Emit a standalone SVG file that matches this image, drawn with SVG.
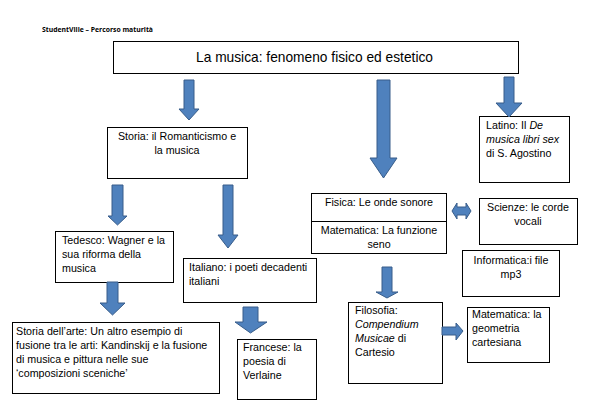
<svg xmlns="http://www.w3.org/2000/svg" width="599" height="409" viewBox="0 0 599 409">
<style>
.box{fill:#fff;stroke:#000;stroke-width:1}
.t{font-family:"Liberation Sans",Arial,sans-serif;font-size:10.7px;fill:#000}
.c{text-anchor:middle}
.arr{fill:#4F81BD;stroke:#385D8A;stroke-width:1}
.i{font-style:italic}
</style>
<rect width="599" height="409" fill="#fff"/>
<text x="42" y="31.5" font-family="'Open Sans','Liberation Sans',sans-serif" font-size="6.5" font-weight="bold" textLength="111" lengthAdjust="spacingAndGlyphs">StudentVille – Percorso maturità</text>

<g id="title">
<rect class="box" x="113.5" y="41.5" width="405" height="32"/>
<text x="314.5" y="62" class="t c" style="font-size:13.75px">La musica: fenomeno fisico ed estetico</text>
</g>
<g id="storia">
<rect class="box" x="107.5" y="127.5" width="140" height="51"/>
<text class="t c" x="177" y="140">Storia: il Romanticismo e</text>
<text class="t c" x="177" y="154">la musica</text>
</g>
<g id="latino">
<rect class="box" x="479.5" y="116.5" width="90" height="66"/>
<text class="t" x="486" y="129">Latino: Il <tspan class="i">De</tspan></text>
<text class="t i" x="486" y="143">musica libri sex</text>
<text class="t" x="486" y="157">di S. Agostino</text>
</g>
<g id="fisica">
<rect class="box" x="311.5" y="193.5" width="135" height="60"/>
<line x1="311.5" y1="221.5" x2="446.5" y2="221.5" stroke="#000" stroke-width="1"/>
<text class="t c" x="379" y="206">Fisica: Le onde sonore</text>
<text class="t c" x="379" y="234">Matematica: La funzione</text>
<text class="t c" x="379" y="248">seno</text>
</g>
<g id="scienze">
<rect class="box" x="479.5" y="198.5" width="98" height="46"/>
<text class="t c" x="528" y="211">Scienze: le corde</text>
<text class="t c" x="528" y="225">vocali</text>
</g>
<g id="informatica">
<rect class="box" x="462.5" y="250.5" width="97" height="46"/>
<text class="t c" x="511" y="264">Informatica:i file</text>
<text class="t c" x="511" y="278">mp3</text>
</g>
<g id="tedesco">
<rect class="box" x="55.5" y="231.5" width="118" height="51"/>
<text class="t" x="62" y="244">Tedesco: Wagner e la</text>
<text class="t" x="62" y="258">sua riforma della</text>
<text class="t" x="62" y="272">musica</text>
</g>
<g id="italiano">
<rect class="box" x="183.5" y="258.5" width="133" height="44"/>
<text class="t" x="189" y="271">Italiano: i poeti decadenti</text>
<text class="t" x="189" y="285">italiani</text>
</g>
<g id="arte">
<rect class="box" x="12.5" y="322.5" width="207" height="71"/>
<text class="t" x="16" y="335">Storia dell’arte: Un altro esempio di</text>
<text class="t" x="16" y="349">fusione tra le arti: Kandinskij e la fusione</text>
<text class="t" x="16" y="363">di musica e pittura nelle sue</text>
<text class="t" x="16" y="377">‘composizioni sceniche’</text>
</g>
<g id="francese">
<rect class="box" x="237.5" y="339.5" width="79" height="60"/>
<text class="t" x="243" y="351">Francese: la</text>
<text class="t" x="243" y="365">poesia di</text>
<text class="t" x="243" y="379">Verlaine</text>
</g>
<g id="filosofia">
<rect class="box" x="348.5" y="302.5" width="94" height="81"/>
<text class="t" x="355" y="314">Filosofia:</text>
<text class="t i" x="355" y="328">Compendium</text>
<text class="t" x="355" y="342"><tspan class="i">Musicae</tspan> di</text>
<text class="t" x="355" y="356">Cartesio</text>
</g>
<g id="matematica2">
<rect class="box" x="467.5" y="307.5" width="82" height="55"/>
<text class="t" x="472" y="318">Matematica: la</text>
<text class="t" x="472" y="332">geometria</text>
<text class="t" x="472" y="346">cartesiana</text>
</g>

<g id="connectors">
<polygon class="arr" points="184,80 194,80 194,109 199,109 189,120 179,109 184,109"/>
<polygon class="arr" points="377,80 390,80 390,158 397,158 383.5,178 370,158 377,158"/>
<polygon class="arr" points="504,77 514,77 514,103 522,103 509,117 496,103 504,103"/>
<polygon class="arr" points="112,185 123,185 123,216 127,216 117.5,225 108,216 112,216"/>
<polygon class="arr" points="223,185 233,185 233,235 238,235 228,248 218,235 223,235"/>
<polygon class="arr" points="107,282 118,282 118,303 125,303 112.5,315 100,303 107,303"/>
<polygon class="arr" points="243,307 258,307 258,322 267,322 250.5,333 235,322 243,322"/>
<polygon class="arr" points="382,267 392,267 392,292 398,292 387,298 376,292 382,292"/>
<polygon class="arr" points="442,327 456,327 456,323 463,331 456,340 456,335 442,335"/>
<polygon class="arr" points="452,211 457,203 457,207 466,207 466,203 471,211 466,219 466,215 457,215 457,219"/>
</g>
</svg>
